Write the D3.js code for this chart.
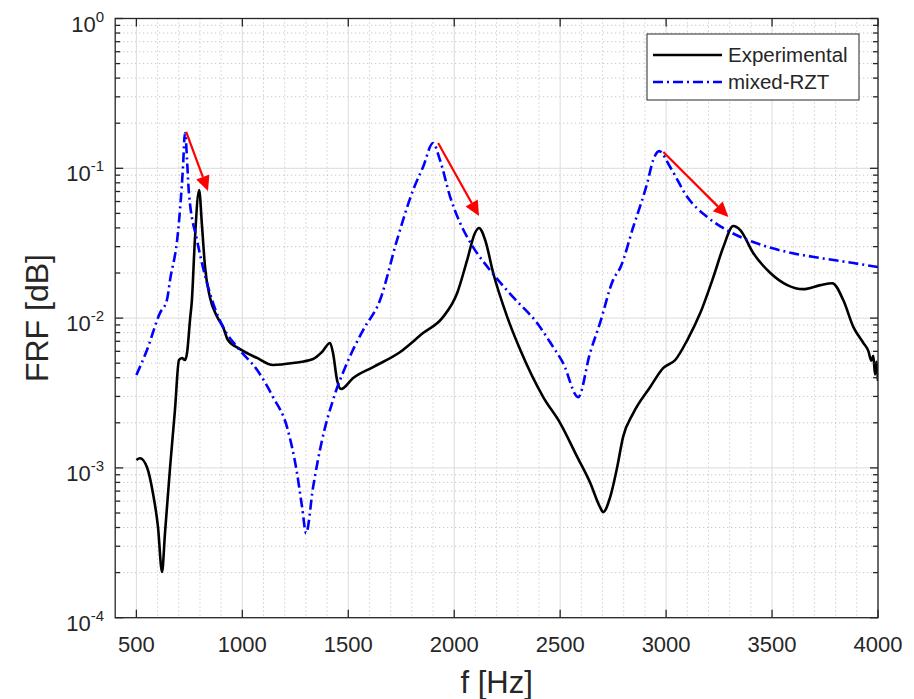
<!DOCTYPE html>
<html><head><meta charset="utf-8">
<script src="https://cdn.jsdelivr.net/npm/d3@7"></script>
<style>
body{margin:0;background:#fff;}
svg{display:block;font-family:"Liberation Sans",Arial,Helvetica,sans-serif;}
</style></head>
<body><svg id="c" width="914" height="699"></svg>
<script>
// ---- data ----
const xTicks = [500,1000,1500,2000,2500,3000,3500,4000];
const yTickExps = [-4,-3,-2,-1,0];
const seriesNames = ["Experimental","mixed-RZT"];

const expFreq = [500,517,550,578,602,621,635,659,682,701,715,729,739,753,762,776,796,810,824,847,881,909,932,989,1069,1145,1239,1334,1376,1414,1428,1447,1466,1523,1617,1745,1853,1943,2014,2061,2098,2117,2146,2184,2250,2312,2420,2500,2581,2642,2688,2703,2736,2769,2797,2845,2925,2987,3043,3100,3161,3223,3270,3317,3350,3411,3492,3572,3647,3728,3784,3836,3884,3931,3955,3968,3978,3986,3993,4000];
const expVal = [0.00113,0.00116,0.00101,0.00068,0.000403,0.000202,0.000367,0.00101,0.00243,0.00525,0.00542,0.00525,0.00585,0.00971,0.0132,0.0332,0.0716,0.0406,0.0219,0.0138,0.0102,0.00871,0.00714,0.00621,0.00542,0.00486,0.00501,0.00533,0.00594,0.00682,0.00585,0.00386,0.00336,0.00398,0.00471,0.00594,0.00794,0.0100,0.0147,0.0244,0.0370,0.0399,0.0332,0.0200,0.0102,0.00612,0.00297,0.00199,0.00118,0.000793,0.000548,0.000507,0.000639,0.00101,0.00161,0.00232,0.00347,0.00465,0.00525,0.00714,0.0108,0.0188,0.0298,0.0412,0.0387,0.0272,0.0200,0.0166,0.0156,0.0166,0.0171,0.0132,0.00871,0.00682,0.0060,0.0052,0.0056,0.0042,0.0051,0.0038];

const rztFreq = [500,550,611,644,659,696,720,729,748,786,814,857,909,975,1070,1145,1211,1258,1282,1301,1334,1376,1428,1494,1570,1650,1730,1806,1853,1900,1933,1981,2028,2089,2169,2278,2391,2467,2514,2585,2641,2688,2750,2785,2845,2911,2939,2967,3019,3100,3194,3302,3411,3572,3728,3884,4000];
const rztVal = [0.00417,0.00612,0.0108,0.0132,0.0180,0.0370,0.102,0.172,0.0684,0.0332,0.0219,0.0132,0.00871,0.00641,0.00450,0.00297,0.00187,0.000925,0.000548,0.000367,0.000745,0.00153,0.00284,0.00501,0.00832,0.0132,0.0332,0.0716,0.102,0.1475,0.1135,0.0643,0.0431,0.0298,0.0209,0.0138,0.00927,0.00641,0.00501,0.00297,0.00585,0.00927,0.0180,0.0219,0.0406,0.0798,0.1135,0.1303,0.102,0.0643,0.0473,0.0376,0.0322,0.0276,0.0252,0.0233,0.0219];

const arrowFromF = [735,1924,2987];
const arrowFromV = [0.175,0.1475,0.1285];
const arrowToF = [838,2117,3294];
const arrowToV = [0.0705,0.048,0.0473];

// ---- layout ----
const svg = d3.select("#c");
const L = 115.2, R = 878, T = 18.5, B = 617.7;
const x = d3.scaleLinear().domain([400,4000]).range([L,R]);
const y = d3.scaleLog().domain([1e-4,1]).range([B,T]);
const axisColor = "#262626";

// grid minor
const g = svg.append("g");
const xMinor = d3.range(500,4000,100).filter(v=>v%500!==0);
g.selectAll(".xm").data(xMinor).enter().append("line")
 .attr("x1",d=>x(d)).attr("x2",d=>x(d)).attr("y1",T).attr("y2",B)
 .attr("stroke","#b8b8b8").attr("stroke-width",1).attr("stroke-dasharray","1,3");
const yMinor = [];
for (let e=-4;e<0;e++) for (let k=2;k<=9;k++) yMinor.push(k*Math.pow(10,e));
g.selectAll(".ym").data(yMinor).enter().append("line")
 .attr("x1",L).attr("x2",R).attr("y1",d=>y(d)).attr("y2",d=>y(d))
 .attr("stroke","#b8b8b8").attr("stroke-width",1).attr("stroke-dasharray","1,3");
// grid major
g.selectAll(".xM").data(xTicks).enter().append("line")
 .attr("x1",d=>x(d)).attr("x2",d=>x(d)).attr("y1",T).attr("y2",B)
 .attr("stroke","#dcdcdc").attr("stroke-width",1);
g.selectAll(".yM").data(yTickExps).enter().append("line")
 .attr("x1",L).attr("x2",R).attr("y1",d=>y(Math.pow(10,d))).attr("y2",d=>y(Math.pow(10,d)))
 .attr("stroke","#dcdcdc").attr("stroke-width",1);

// lines
svg.append("clipPath").attr("id","clp").append("rect")
 .attr("x",L).attr("y",T).attr("width",R-L).attr("height",B-T);
const line = d3.line().x(d=>x(d[0])).y(d=>y(d[1])).curve(d3.curveMonotoneX);
const expData = expFreq.map((f,i)=>[f,expVal[i]]);
const rztData = rztFreq.map((f,i)=>[f,rztVal[i]]);
svg.append("path").datum(expData).attr("d",line).attr("clip-path","url(#clp)")
 .attr("fill","none").attr("stroke","#000").attr("stroke-width",2.6).attr("stroke-linejoin","round");
svg.append("path").datum(rztData).attr("d",line).attr("clip-path","url(#clp)")
 .attr("fill","none").attr("stroke","#0000ff").attr("stroke-width",2.6)
 .attr("stroke-dasharray","10,4,2,4");

// arrows
const arrows = arrowFromF.map((f,i)=>({x1:x(f),y1:y(arrowFromV[i]),x2:x(arrowToF[i]),y2:y(arrowToV[i])}));
const ag = svg.append("g");
arrows.forEach(a=>{
  const dx=a.x2-a.x1, dy=a.y2-a.y1, len=Math.hypot(dx,dy), ux=dx/len, uy=dy/len;
  const hl=15, hw=7;
  const bx=a.x2-ux*hl, by=a.y2-uy*hl;
  ag.append("line").attr("x1",a.x1).attr("y1",a.y1).attr("x2",bx).attr("y2",by)
    .attr("stroke","#ff0000").attr("stroke-width",2.2);
  ag.append("path").attr("d",`M${a.x2},${a.y2}L${bx-uy*hw},${by+ux*hw}L${bx+uy*hw},${by-ux*hw}Z`)
    .attr("fill","#ff0000");
});

// axes box + ticks
const ax = svg.append("g").attr("stroke",axisColor).attr("stroke-width",1.3);
ax.append("rect").attr("x",L).attr("y",T).attr("width",R-L).attr("height",B-T).attr("fill","none");
xTicks.forEach(v=>{
  ax.append("line").attr("x1",x(v)).attr("x2",x(v)).attr("y1",B).attr("y2",B-8);
  ax.append("line").attr("x1",x(v)).attr("x2",x(v)).attr("y1",T).attr("y2",T+8);
});
yTickExps.forEach(e=>{
  const yy=y(Math.pow(10,e));
  ax.append("line").attr("x1",L).attr("x2",L+8).attr("y1",yy).attr("y2",yy);
  ax.append("line").attr("x1",R).attr("x2",R-8).attr("y1",yy).attr("y2",yy);
});
yMinor.forEach(v=>{
  const yy=y(v);
  ax.append("line").attr("x1",L).attr("x2",L+5).attr("y1",yy).attr("y2",yy);
  ax.append("line").attr("x1",R).attr("x2",R-5).attr("y1",yy).attr("y2",yy);
});

// tick labels
const tl = svg.append("g").attr("fill",axisColor);
xTicks.forEach(v=>{
  tl.append("text").attr("x",x(v)).attr("y",B+34).attr("text-anchor","middle")
    .attr("font-size",22).text(v);
});
yTickExps.forEach(e=>{
  const yy=y(Math.pow(10,e));
  const t=tl.append("text").attr("x",104).attr("y",yy+13).attr("text-anchor","end").attr("font-size",22);
  t.append("tspan").text("10");
  t.append("tspan").attr("font-size",15).attr("dy",-10).text(String(e));
});

// axis titles
svg.append("text").attr("x",(L+R)/2).attr("y",693).attr("text-anchor","middle")
 .attr("font-size",31).attr("fill",axisColor).text("f [Hz]");
svg.append("text").attr("transform",`translate(48,${(T+B)/2}) rotate(-90)`).attr("text-anchor","middle")
 .attr("font-size",32).attr("fill",axisColor).text("FRF [dB]");

// legend
const lg = svg.append("g");
lg.append("rect").attr("x",647).attr("y",34).attr("width",212).attr("height",66)
 .attr("fill","#fff").attr("stroke",axisColor).attr("stroke-width",1);
const legStyles = [{c:"#000",d:null},{c:"#0000ff",d:"10,4,2,4"}];
seriesNames.forEach((n,i)=>{
  const yy = 55 + i*27;
  const l = lg.append("line").attr("x1",653).attr("x2",722).attr("y1",yy).attr("y2",yy)
    .attr("stroke",legStyles[i].c).attr("stroke-width",2.6);
  if (legStyles[i].d) l.attr("stroke-dasharray",legStyles[i].d);
  lg.append("text").attr("x",728).attr("y",yy+7).attr("font-size",20.5).attr("fill",axisColor).text(n);
});
</script></body></html>
